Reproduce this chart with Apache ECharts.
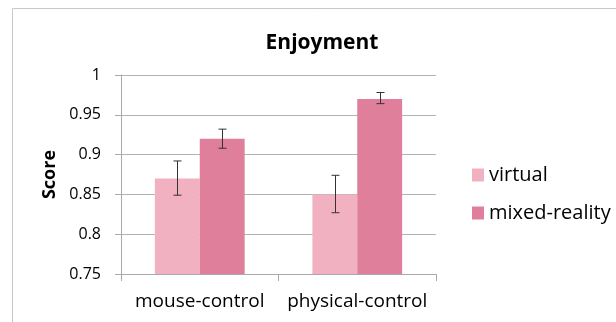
<!DOCTYPE html>
<html>
<head>
<meta charset="utf-8">
<script src="https://cdn.jsdelivr.net/npm/echarts@6/dist/echarts.min.js"></script>
<style>
  html, body { margin: 0; padding: 0; background: #fff; }
  #chart { width: 616px; height: 322px; }
</style>
</head>
<body>
<div id="chart"></div>
<script>
var categories = ['mouse-control', 'physical-control'];
var seriesNames = ['virtual', 'mixed-reality'];
var virtualScores = [0.87, 0.85];
var mixedScores = [0.92, 0.97];
// error bar ends [low, high]
var virtualErr = [[0.849, 0.892], [0.827, 0.874]];
var mixedErr = [[0.908, 0.932], [0.964, 0.978]];
var yTicks = [0.75, 0.8, 0.85, 0.9, 0.95, 1];

var colors = ['#f2b1c0', '#df7f9b'];
var catGap = 0.43;

var chart = echarts.init(document.getElementById('chart'));

// error bar for one series; side -1 = left bar, +1 = right bar
function errorRender(side) {
    return function (params, api) {
        var idx = api.value(0);
        var lo = api.coord([idx, api.value(1)]);
        var hi = api.coord([idx, api.value(2)]);
        var band = api.size([1, 0])[0];
        var bw = band * (1 - catGap) / 2;
        var x = Math.round(lo[0] + side * bw / 2) + 0.5;
        var cap = 4;
        var st = { stroke: '#333', lineWidth: 1 };
        return {
            type: 'group',
            children: [
                { type: 'line', shape: { x1: x, y1: lo[1], x2: x, y2: hi[1] }, style: st },
                { type: 'line', shape: { x1: x - cap, y1: lo[1], x2: x + cap, y2: lo[1] }, style: st },
                { type: 'line', shape: { x1: x - cap, y1: hi[1], x2: x + cap, y2: hi[1] }, style: st }
            ]
        };
    };
}

function errData(arr) {
    return arr.map(function (e, i) { return [i, e[0], e[1]]; });
}

var font = '"Open Sans", sans-serif';

var option = {
    animation: false,
    textStyle: { fontFamily: font },
    title: {
        text: 'Enjoyment',
        left: 317,
        textAlign: 'center',
        top: 28,
        textStyle: { fontSize: 21, fontWeight: 'bold', color: '#000', fontFamily: font }
    },
    legend: {
        orient: 'vertical',
        left: 467,
        top: 160,
        itemWidth: 12,
        itemHeight: 13,
        itemGap: 18,
        icon: 'rect',
        data: seriesNames,
        textStyle: { fontSize: 20, color: '#000', fontFamily: font }
    },
    graphic: [{
        type: 'rect',
        shape: { x: 12.5, y: 8.5, width: 640, height: 400 },
        style: { fill: 'none', stroke: '#c8c8c8', lineWidth: 1 },
        silent: true
    }],
    grid: { left: 121, right: 180, top: 75, bottom: 48 },
    xAxis: {
        type: 'category',
        data: categories,
        axisLine: { lineStyle: { color: '#aaa' } },
        axisTick: { show: true, length: 7, lineStyle: { color: '#aaa' } },
        axisLabel: { fontSize: 19, color: '#000', margin: 18, interval: 0, fontFamily: font }
    },
    yAxis: {
        type: 'value',
        min: yTicks[0],
        max: yTicks[yTicks.length - 1],
        interval: 0.05,
        name: 'Score',
        nameLocation: 'middle',
        nameGap: 62,
        nameRotate: 90,
        nameTextStyle: { fontSize: 18, fontWeight: 'bold', color: '#000', fontFamily: font },
        axisLine: { show: true, lineStyle: { color: '#aaa' } },
        axisTick: { show: true, length: 6, lineStyle: { color: '#aaa' } },
        splitLine: { lineStyle: { color: '#b3b3b3' } },
        axisLabel: {
            fontSize: 16, color: '#000', margin: 20, fontFamily: font,
            formatter: function (v) { return String(parseFloat(v.toFixed(2))); }
        }
    },
    series: [
        {
            name: seriesNames[0], type: 'bar', data: virtualScores,
            barGap: 0, barCategoryGap: (catGap * 100) + '%',
            itemStyle: { color: colors[0] }
        },
        {
            name: seriesNames[1], type: 'bar', data: mixedScores,
            barGap: 0, barCategoryGap: (catGap * 100) + '%',
            itemStyle: { color: colors[1] }
        },
        {
            type: 'custom', renderItem: errorRender(-1), data: errData(virtualErr),
            encode: { x: 0, y: [1, 2] }, z: 10, silent: true
        },
        {
            type: 'custom', renderItem: errorRender(1), data: errData(mixedErr),
            encode: { x: 0, y: [1, 2] }, z: 10, silent: true
        }
    ]
};

chart.setOption(option);
</script>
</body>
</html>
